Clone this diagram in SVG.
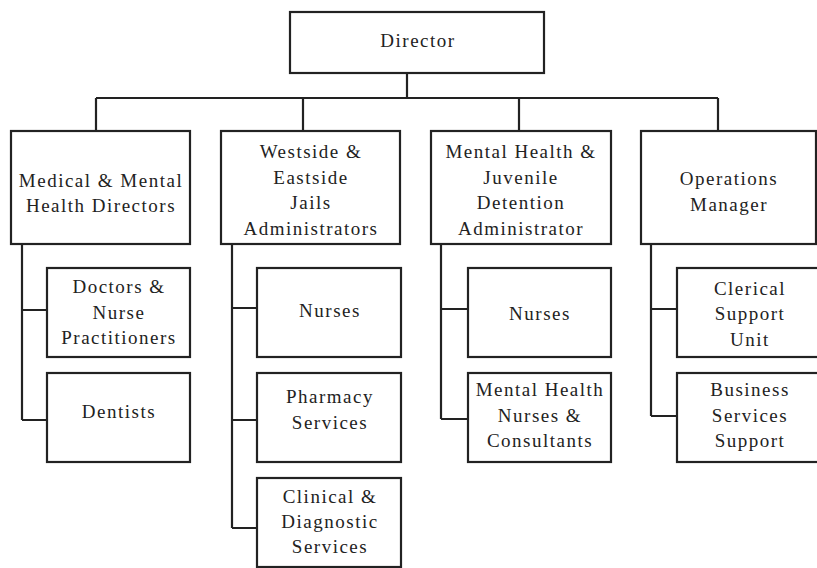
<svg xmlns="http://www.w3.org/2000/svg" width="817" height="568" viewBox="0 0 817 568">
  <style>
    .box { fill: #ffffff; stroke: #222222; stroke-width: 2.2; }
    .link { fill: none; stroke: #222222; stroke-width: 2.2; }
    text { font-family: "Liberation Serif", "Times New Roman", serif; font-size: 19px; fill: #222222; text-anchor: middle; letter-spacing: 1.5px; }
  </style>
  <rect width="817" height="568" fill="#ffffff"/>

  <!-- connectors -->
  <g id="connectors">
    <path class="link" d="M407 73 V98 M96 98 H718 M96 98 V131 M303 98 V131 M519 98 V131 M718 98 V131"/>
    <path class="link" d="M22 244 V420 M22 310 H47 M22 420 H47"/>
    <path class="link" d="M232 244 V528 M232 308 H257 M232 420 H257 M232 528 H257"/>
    <path class="link" d="M441 244 V419 M441 309 H468 M441 419 H468"/>
    <path class="link" d="M651 244 V416 M651 309 H677 M651 416 H677"/>
  </g>

  <!-- top -->
  <g id="director">
    <rect class="box" x="290" y="12" width="254" height="61"/>
    <text x="418" y="47">Director</text>
  </g>

  <!-- second level -->
  <g id="medical-mental-health-directors">
    <rect class="box" x="11" y="131" width="179" height="113"/>
    <text x="101" y="187">Medical &amp; Mental</text>
    <text x="101" y="212">Health Directors</text>
  </g>
  <g id="jails-administrators">
    <rect class="box" x="221" y="131" width="179" height="113"/>
    <text x="311" y="158">Westside &amp;</text>
    <text x="311" y="184">Eastside</text>
    <text x="311" y="209">Jails</text>
    <text x="311" y="235">Administrators</text>
  </g>
  <g id="juvenile-detention-administrator">
    <rect class="box" x="431" y="131" width="180" height="113"/>
    <text x="521" y="158">Mental Health &amp;</text>
    <text x="521" y="184">Juvenile</text>
    <text x="521" y="209">Detention</text>
    <text x="521" y="235">Administrator</text>
  </g>
  <g id="operations-manager">
    <rect class="box" x="641" y="131" width="175" height="113"/>
    <text x="729" y="185">Operations</text>
    <text x="729" y="211">Manager</text>
  </g>

  <!-- medical column -->
  <g id="doctors-nurse-practitioners">
    <rect class="box" x="47" y="268" width="143" height="89"/>
    <text x="119" y="293">Doctors &amp;</text>
    <text x="119" y="319">Nurse</text>
    <text x="119" y="344">Practitioners</text>
  </g>
  <g id="dentists">
    <rect class="box" x="47" y="373" width="143" height="89"/>
    <text x="119" y="418">Dentists</text>
  </g>

  <!-- jails column -->
  <g id="jails-nurses">
    <rect class="box" x="257" y="268" width="144" height="89"/>
    <text x="330" y="317">Nurses</text>
  </g>
  <g id="pharmacy-services">
    <rect class="box" x="257" y="373" width="144" height="89"/>
    <text x="330" y="403">Pharmacy</text>
    <text x="330" y="429">Services</text>
  </g>
  <g id="clinical-diagnostic-services">
    <rect class="box" x="257" y="478" width="144" height="89"/>
    <text x="330" y="503">Clinical &amp;</text>
    <text x="330" y="528">Diagnostic</text>
    <text x="330" y="553">Services</text>
  </g>

  <!-- juvenile column -->
  <g id="juvenile-nurses">
    <rect class="box" x="468" y="268" width="143" height="89"/>
    <text x="540" y="320">Nurses</text>
  </g>
  <g id="mental-health-nurses-consultants">
    <rect class="box" x="468" y="373" width="143" height="89"/>
    <text x="540" y="396">Mental Health</text>
    <text x="540" y="422">Nurses &amp;</text>
    <text x="540" y="447">Consultants</text>
  </g>

  <!-- operations column -->
  <g id="clerical-support-unit">
    <rect class="box" x="677" y="268" width="145" height="89"/>
    <text x="750" y="295">Clerical</text>
    <text x="750" y="320">Support</text>
    <text x="750" y="346">Unit</text>
  </g>
  <g id="business-services-support">
    <rect class="box" x="677" y="373" width="145" height="89"/>
    <text x="750" y="396">Business</text>
    <text x="750" y="422">Services</text>
    <text x="750" y="447">Support</text>
  </g>
</svg>
